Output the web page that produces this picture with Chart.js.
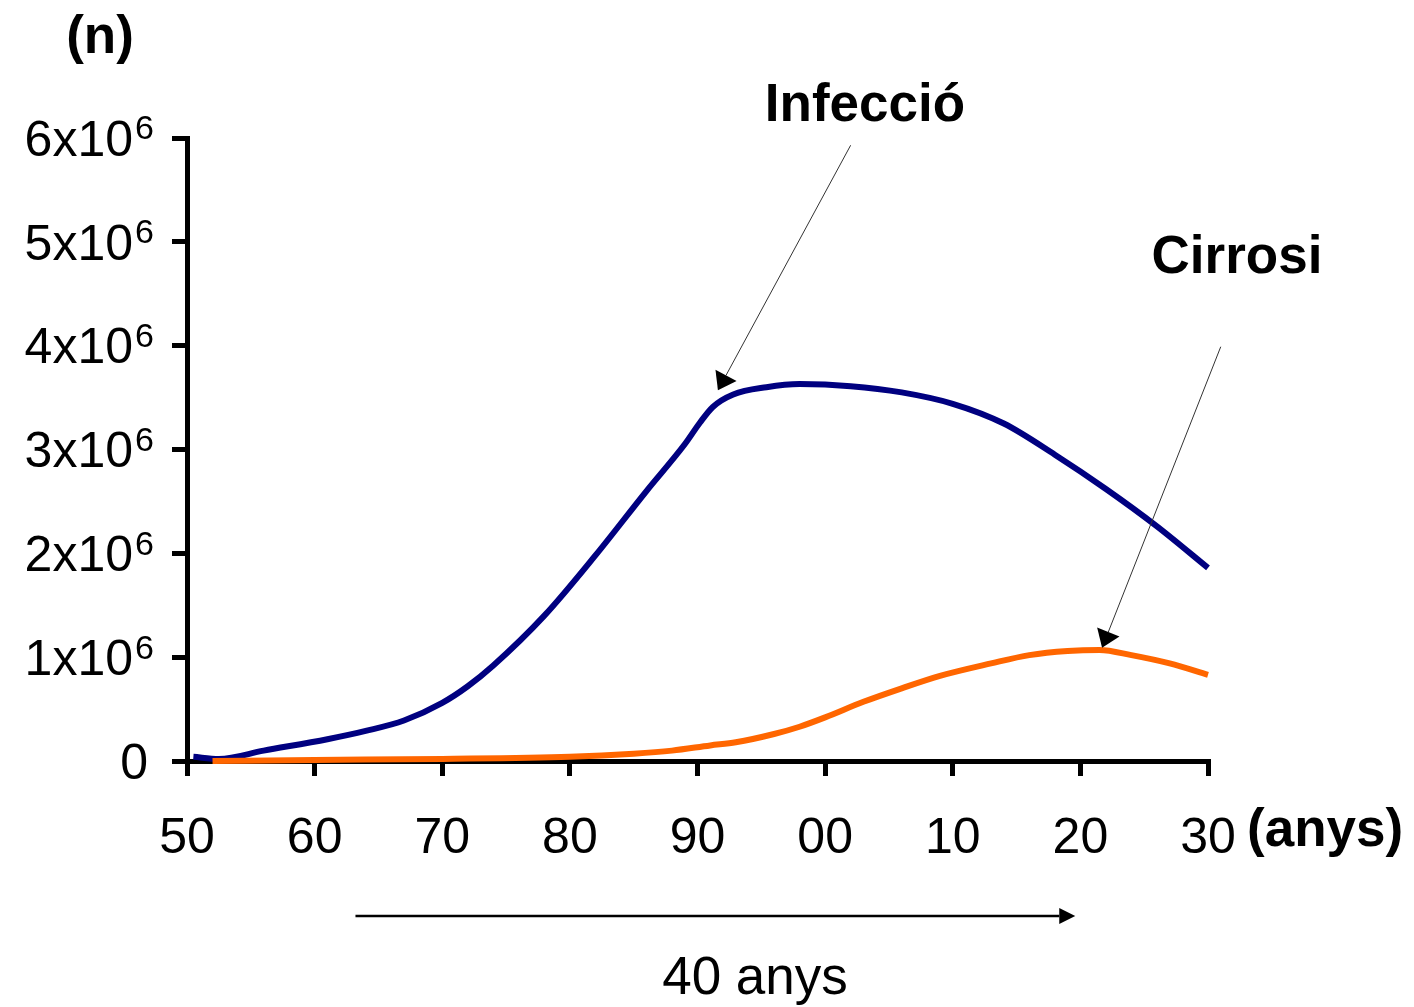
<!DOCTYPE html>
<html>
<head>
<meta charset="utf-8">
<script src="https://cdn.jsdelivr.net/npm/chart.js@4.4.1/dist/chart.umd.min.js"></script>
<style>
    body { margin: 0; background: #fff; }
    #wrap { width: 1414px; height: 1007px; position: relative; }
</style>
</head>
<body>
<div id="wrap"><canvas id="myChart"></canvas></div>
<script>
// valors en milions de persones
const infeccioYears = [1950.5, 1952.5, 1956, 1961, 1964, 1967, 1970, 1972, 1974, 1978, 1982, 1986, 1989, 1990.2, 1991.2, 1992.8, 1995.4, 1998, 2002, 2006, 2010, 2014, 2018, 2022, 2026, 2030];
const infeccio = [0.04, 0.02, 0.10, 0.21, 0.29, 0.39, 0.56, 0.72, 0.92, 1.40, 1.98, 2.60, 3.05, 3.26, 3.41, 3.53, 3.60, 3.63, 3.61, 3.55, 3.44, 3.25, 2.95, 2.62, 2.26, 1.86];

const cirrosiYears = [1952, 1960, 1970, 1980, 1985, 1988, 1991, 1993, 1996, 1998, 2000, 2003, 2006, 2009, 2013, 2016, 2019, 2021.5, 2024, 2027, 2030];
const cirrosi = [0.0, 0.01, 0.02, 0.04, 0.07, 0.10, 0.15, 0.18, 0.26, 0.33, 0.42, 0.57, 0.70, 0.82, 0.94, 1.02, 1.06, 1.07, 1.02, 0.94, 0.83];

const xTickLabels = ['50', '60', '70', '80', '90', '00', '10', '20', '30'];
const yTickLabels = ['0', '1x10', '2x10', '3x10', '4x10', '5x10', '6x10'];

const FONT = "'Liberation Sans', Arial, sans-serif";

function arrow(ctx, x1, y1, x2, y2, len, half, width) {
    const a = Math.atan2(y2 - y1, x2 - x1);
    const bx = x2 - len * Math.cos(a);
    const by = y2 - len * Math.sin(a);
    ctx.lineWidth = width;
    ctx.beginPath();
    ctx.moveTo(x1, y1);
    ctx.lineTo(bx, by);
    ctx.stroke();
    ctx.beginPath();
    ctx.moveTo(x2, y2);
    ctx.lineTo(bx - half * Math.sin(a), by + half * Math.cos(a));
    ctx.lineTo(bx + half * Math.sin(a), by - half * Math.cos(a));
    ctx.closePath();
    ctx.fill();
}

const annotations = {
    id: 'annotations',
    afterDraw(chart) {
        const ctx = chart.ctx;
        const x = chart.scales.x;
        const y = chart.scales.y;
        const area = chart.chartArea;
        ctx.save();
        ctx.fillStyle = '#000';
        ctx.strokeStyle = '#000';

        // etiquetes de l'eix y amb exponent
        ctx.textBaseline = 'middle';
        yTickLabels.forEach((lbl, i) => {
            const py = y.getPixelForValue(i);
            ctx.font = `50px ${FONT}`;
            ctx.textAlign = 'right';
            if (i === 0) {
                ctx.fillText(lbl, 148, py + 4);
            } else {
                ctx.fillText(lbl, 133, py + 4);
                ctx.font = `34px ${FONT}`;
                ctx.textAlign = 'left';
                ctx.fillText('6', 135, py - 8);
            }
        });

        // titols
        ctx.font = `bold 53px ${FONT}`;
        ctx.textAlign = 'center';
        ctx.fillText('(n)', 100, 38);
        ctx.fillText('Infecció', 865, 106);
        ctx.fillText('Cirrosi', 1237, 258);
        ctx.textAlign = 'left';
        ctx.fillText('(anys)', 1247, 831);

        // fletxes
        ctx.strokeStyle = '#333';
        arrow(ctx, x.getPixelForValue(2002.0), y.getPixelForValue(5.93),
            x.getPixelForValue(1991.6), y.getPixelForValue(3.57), 17, 12, 1);
        arrow(ctx, x.getPixelForValue(2031.0), y.getPixelForValue(3.99),
            x.getPixelForValue(2021.7), y.getPixelForValue(1.09), 17, 12, 1);

        ctx.strokeStyle = '#000';
        const by = area.bottom + 155;
        arrow(ctx, x.getPixelForValue(1963.2), by, x.getPixelForValue(2019.6), by, 16, 8, 2.5);

        ctx.font = `53px ${FONT}`;
        ctx.textAlign = 'center';
        ctx.fillText('40 anys', 755, 979);
        ctx.restore();
    }
};

const ctx = document.getElementById('myChart').getContext('2d');
new Chart(ctx, {
    type: 'line',
    data: {
        datasets: [
            {
                label: 'Cirrosi',
                data: cirrosiYears.map((yr, i) => ({ x: yr, y: cirrosi[i] })),
                borderColor: '#ff6600',
                borderWidth: 6,
                pointRadius: 0,
                cubicInterpolationMode: 'monotone',
                clip: false
            },
            {
                label: 'Infecció',
                data: infeccioYears.map((yr, i) => ({ x: yr, y: infeccio[i] })),
                borderColor: '#000080',
                borderWidth: 6,
                pointRadius: 0,
                cubicInterpolationMode: 'monotone',
                clip: false
            }
        ]
    },
    options: {
        responsive: true,
        maintainAspectRatio: false,
        animation: false,
        layout: { padding: { top: 138, right: 206, left: 0, bottom: 0 } },
        plugins: {
            legend: { display: false },
            tooltip: { enabled: false }
        },
        scales: {
            x: {
                type: 'linear',
                min: 1950,
                max: 2030,
                afterFit: scale => { scale.height = 246; },
                border: { display: true, color: '#000', width: 5 },
                grid: { drawOnChartArea: false, drawTicks: true, tickLength: 15, lineWidth: 5, color: '#000' },
                ticks: {
                    stepSize: 10,
                    padding: 33,
                    color: '#000',
                    font: { family: FONT, size: 50 },
                    maxRotation: 0,
                    callback: v => xTickLabels[Math.round((v - 1950) / 10)]
                }
            },
            y: {
                min: 0,
                max: 6,
                afterFit: scale => { scale.width = 187; },
                border: { display: true, color: '#000', width: 5 },
                grid: { drawOnChartArea: false, drawTicks: true, tickLength: 15, lineWidth: 5, color: '#000' },
                ticks: { stepSize: 1, display: false }
            }
        }
    },
    plugins: [annotations]
});
</script>
</body>
</html>
